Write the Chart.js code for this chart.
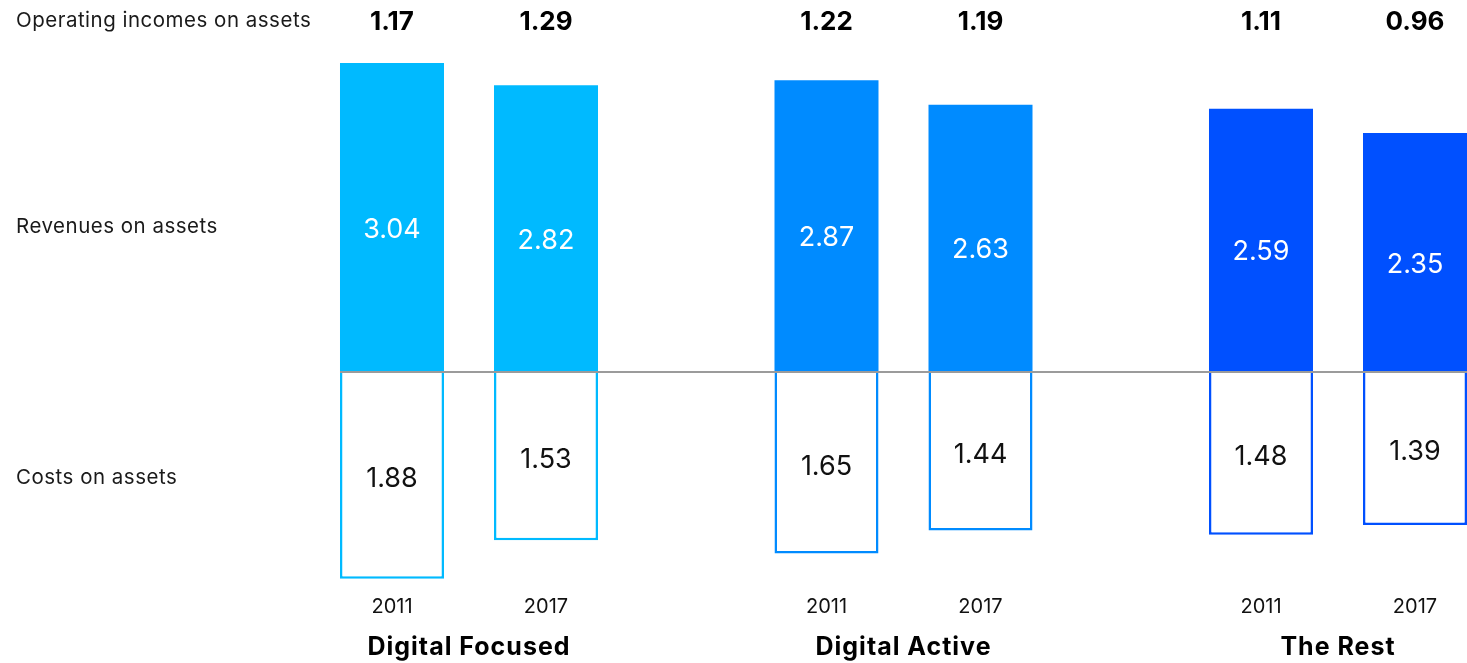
<!DOCTYPE html>
<html><head><meta charset="utf-8">
<script src="https://cdn.jsdelivr.net/npm/chart.js@4"></script>
<style>
html,body{margin:0;padding:0;background:#fff;overflow:hidden}
#wrap{width:1467px;height:663px;overflow:hidden;position:relative}
canvas{display:block}
</style>
</head><body><div id="wrap"><canvas id="c" width="1600" height="663"></canvas></div>
<script>
const groups = ['Digital Focused', 'Digital Active', 'The Rest'];
const years = ['2011', '2017'];
const revenue2011 = [3.04, 2.87, 2.59];
const revenue2017 = [2.82, 2.63, 2.35];
const costs2011 = [1.88, 1.65, 1.48];
const costs2017 = [1.53, 1.44, 1.39];
const opIncome2011 = [1.17, 1.22, 1.11];
const opIncome2017 = [1.29, 1.19, 0.96];
const rowLabels = ['Operating incomes on assets', 'Revenues on assets', 'Costs on assets'];
const groupColors = ['#00BAFF', '#008BFF', '#0050FF'];

const FONT = 'Inter, "Open Sans", sans-serif';

const labelPlugin = {
  id: 'labels',
  afterDatasetsDraw(chart) {
    const ctx = chart.ctx;
    const y0 = chart.scales.y.getPixelForValue(0);
    const first = chart.getDatasetMeta(0).data[0];
    ctx.save();
    ctx.strokeStyle = '#9B9B9B';
    ctx.lineWidth = 2;
    ctx.beginPath();
    ctx.moveTo(first.x - first.width / 2, y0);
    ctx.lineTo(chart.chartArea.right, y0);
    ctx.stroke();

    ctx.textAlign = 'center';
    ctx.textBaseline = 'alphabetic';
    const pairs = [
      [0, 1, opIncome2011, revenue2011, costs2011],
      [2, 3, opIncome2017, revenue2017, costs2017]
    ];
    pairs.forEach(([ri, ci, op, rev, cost], k) => {
      const rm = chart.getDatasetMeta(ri), cm = chart.getDatasetMeta(ci);
      rm.data.forEach((bar, i) => {
        const mid = (bar.y + bar.base) / 2;
        ctx.fillStyle = '#FFFFFF';
        ctx.font = '400 27px ' + FONT;
        ctx.fillText(rev[i].toFixed(2), bar.x, mid + 20);
        ctx.fillStyle = '#000000';
        ctx.font = '700 26px ' + FONT;
        ctx.fillText(op[i].toFixed(2), bar.x, 30);
        ctx.fillStyle = '#111111';
        ctx.font = '400 20px ' + FONT;
        ctx.fillText(years[k], bar.x, 613);
      });
      cm.data.forEach((bar, i) => {
        const mid = (bar.y + bar.base) / 2;
        ctx.fillStyle = '#111111';
        ctx.font = '400 27px ' + FONT;
        ctx.fillText(cost[i].toFixed(2), bar.x, mid + 12);
      });
    });

    ctx.fillStyle = '#000000';
    ctx.font = '700 25px ' + FONT;
    ctx.letterSpacing = '1px';
    groups.forEach((g, i) => {
      ctx.fillText(g, chart.scales.x.getPixelForValue(i), 655);
    });

    ctx.textAlign = 'left';
    ctx.fillStyle = '#1a1a1a';
    ctx.font = '400 20.5px ' + FONT;
    ctx.letterSpacing = '0.5px';
    const rowY = [27, 233, 484];
    rowLabels.forEach((t, i) => ctx.fillText(t, 16, rowY[i]));
    ctx.letterSpacing = '0px';
    ctx.restore();
  }
};

const common = { categoryPercentage: 0.7089, barPercentage: 0.6753 };

new Chart(document.getElementById('c'), {
  type: 'bar',
  data: {
    labels: groups,
    datasets: [
      Object.assign({ label: 'Revenues 2011', data: revenue2011, stack: '2011', yAxisID: 'y',
        backgroundColor: groupColors, borderWidth: 0 }, common),
      Object.assign({ label: 'Costs 2011', data: costs2011.map(v => -v), stack: '2011', yAxisID: 'y2',
        backgroundColor: '#FFFFFF', borderColor: groupColors, borderWidth: 2.5, borderSkipped: 'start' }, common),
      Object.assign({ label: 'Revenues 2017', data: revenue2017, stack: '2017', yAxisID: 'y',
        backgroundColor: groupColors, borderWidth: 0 }, common),
      Object.assign({ label: 'Costs 2017', data: costs2017.map(v => -v), stack: '2017', yAxisID: 'y2',
        backgroundColor: '#FFFFFF', borderColor: groupColors, borderWidth: 2.5, borderSkipped: 'start' }, common)
    ]
  },
  options: {
    responsive: false,
    devicePixelRatio: 1,
    animation: false,
    layout: { padding: { left: 251.75, right: 44.75, top: 40, bottom: 73 } },
    plugins: { legend: { display: false }, tooltip: { enabled: false } },
    scales: {
      x: { display: false },
      y: { display: false, min: -2.144, max: 3.266 },
      y2: { display: false, min: -1.982, max: 3.018 }
    }
  },
  plugins: [labelPlugin]
});
</script>
</body></html>
